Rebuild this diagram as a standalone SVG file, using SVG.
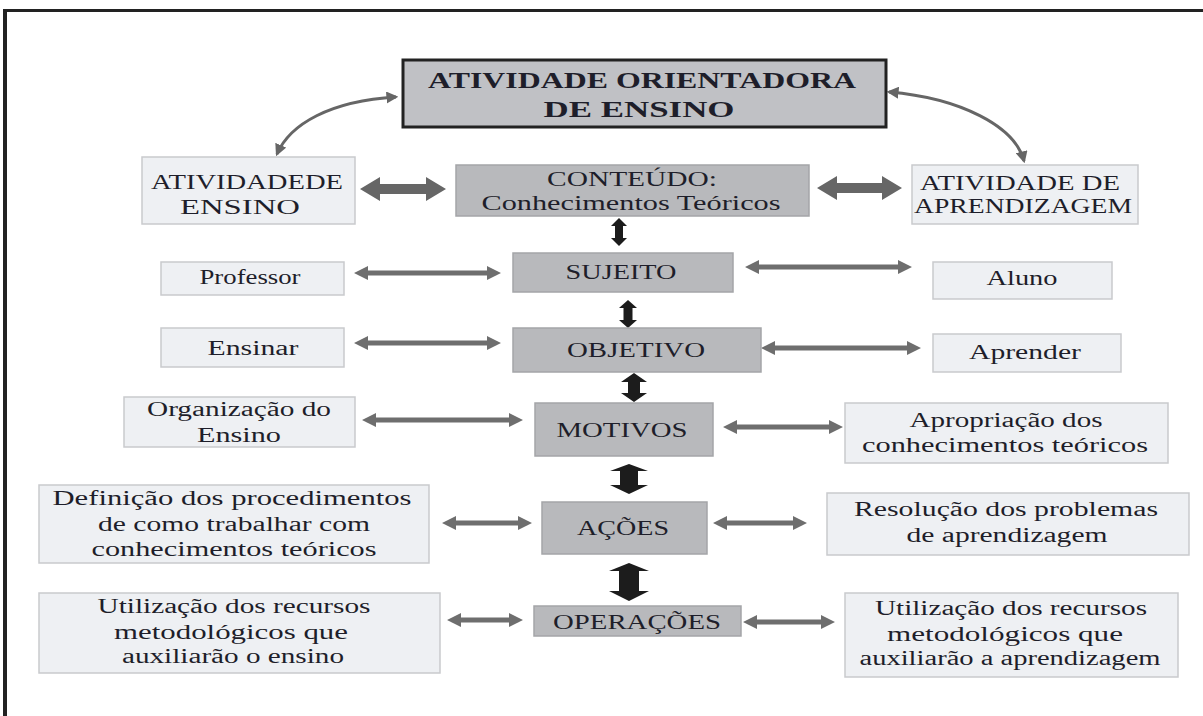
<svg xmlns="http://www.w3.org/2000/svg" width="1203" height="716" viewBox="0 0 1203 716">
<defs>
<style>
.t{font-family:"Liberation Serif","Times New Roman",serif;font-size:20px;fill:#1e1e2a;text-anchor:middle}
.tb{font-family:"Liberation Serif","Times New Roman",serif;font-size:24px;font-weight:bold;fill:#1e1e2a;text-anchor:middle}
.side{fill:#eef0f3;stroke:#c9cacd;stroke-width:1.5}
.mid{fill:#b8b9bc;stroke:#a4a5a8;stroke-width:1.5}
.top{fill:#c0c1c5;stroke:#222;stroke-width:3}
.ga{fill:#6e6e6e}
.gt{fill:#666}
.ba{fill:#1c1c1c}
.cv{fill:none;stroke:#666;stroke-width:3;marker-start:url(#ah);marker-end:url(#ah)}
</style>
<marker id="ah" viewBox="0 0 10 10" refX="8" refY="5" markerWidth="4" markerHeight="4" orient="auto-start-reverse" markerUnits="strokeWidth">
<path d="M0,0 L10,5 L0,10 z" fill="#666"/>
</marker>
</defs>
<rect width="1203" height="716" fill="#fff"/>
<g id="frame">
<rect x="3" y="9" width="4" height="707" fill="#222"/>
<rect x="3" y="9" width="1200" height="3" fill="#222"/>
</g>
<g id="connectors">
<path class="cv" d="M396,97 C330,101 290,124 277,154"/>
<path class="cv" d="M889,92 C960,98 1015,126 1024,161"/>
<path class="gt" d="M360,189 L380,177 L380,184 L426,184 L426,177 L446,189 L426,201 L426,194 L380,194 L380,201 Z"/>
<path class="gt" d="M817,188 L837,176 L837,183 L882,183 L882,176 L902,188 L882,200 L882,193 L837,193 L837,200 Z"/>
<path class="ga" d="M354,273 L368,266 L368,270.5 L487,270.5 L487,266 L501,273 L487,280 L487,275.5 L368,275.5 L368,280 Z"/>
<path class="ga" d="M745,267 L759,260 L759,264.5 L898,264.5 L898,260 L912,267 L898,274 L898,269.5 L759,269.5 L759,274 Z"/>
<path class="ga" d="M354,343 L368,336 L368,340.5 L487,340.5 L487,336 L501,343 L487,350 L487,345.5 L368,345.5 L368,350 Z"/>
<path class="ga" d="M761,348 L775,341 L775,345.5 L907,345.5 L907,341 L921,348 L907,355 L907,350.5 L775,350.5 L775,355 Z"/>
<path class="ga" d="M362,420 L376,413 L376,417.5 L509,417.5 L509,413 L523,420 L509,427 L509,422.5 L376,422.5 L376,427 Z"/>
<path class="ga" d="M723,427 L737,420 L737,424.5 L829,424.5 L829,420 L843,427 L829,434 L829,429.5 L737,429.5 L737,434 Z"/>
<path class="ga" d="M442,523 L456,516 L456,520.5 L518,520.5 L518,516 L532,523 L518,530 L518,525.5 L456,525.5 L456,530 Z"/>
<path class="ga" d="M713,523 L727,516 L727,520.5 L793,520.5 L793,516 L807,523 L793,530 L793,525.5 L727,525.5 L727,530 Z"/>
<path class="ga" d="M447,620 L461,613 L461,617.5 L509,617.5 L509,613 L523,620 L509,627 L509,622.5 L461,622.5 L461,627 Z"/>
<path class="ga" d="M743,622 L757,615 L757,619.5 L821,619.5 L821,615 L835,622 L821,629 L821,624.5 L757,624.5 L757,629 Z"/>
<path class="ba" d="M619,218 L627,226 L623,226 L623,238 L627,238 L619,246 L611,238 L615,238 L615,226 L611,226 Z"/>
<path class="ba" d="M628,300 L637,308 L632.5,308 L632.5,320 L637,320 L628,328 L619,320 L623.5,320 L623.5,308 L619,308 Z"/>
<path class="ba" d="M634,373 L647,382 L640,382 L640,393 L647,393 L634,402 L621,393 L628,393 L628,382 L621,382 Z"/>
<path class="ba" d="M629,464 L648,471 L638,471 L638,485 L648,485 L629,494 L610,485 L620,485 L620,471 L610,471 Z"/>
<path class="ba" d="M629,563 L649,571 L639,571 L639,591 L649,591 L629,601 L609,591 L619,591 L619,571 L609,571 Z"/>
</g>
<g id="n-aoe">
<rect class="top" x="403" y="60" width="483" height="67"/>
<text class="tb" x="642" y="88" textLength="428" lengthAdjust="spacingAndGlyphs">ATIVIDADE ORIENTADORA</text>
<text class="tb" x="639" y="117" textLength="191" lengthAdjust="spacingAndGlyphs">DE ENSINO</text>
</g>
<g id="n-ativ-ensino">
<rect class="side" x="142" y="157" width="213" height="67"/>
<text class="t" x="247" y="189" textLength="192" lengthAdjust="spacingAndGlyphs">ATIVIDADEDE</text>
<text class="t" x="240" y="214" textLength="120" lengthAdjust="spacingAndGlyphs">ENSINO</text>
</g>
<g id="n-conteudo">
<rect class="mid" x="456" y="165" width="353" height="51"/>
<text class="t" x="632" y="186" textLength="170" lengthAdjust="spacingAndGlyphs">CONTEÚDO:</text>
<text class="t" x="631" y="210" textLength="299" lengthAdjust="spacingAndGlyphs">Conhecimentos Teóricos</text>
</g>
<g id="n-ativ-aprend">
<rect class="side" x="912" y="165" width="226" height="59"/>
<text class="t" x="1020" y="190" textLength="200" lengthAdjust="spacingAndGlyphs">ATIVIDADE DE</text>
<text class="t" x="1023" y="213" textLength="218" lengthAdjust="spacingAndGlyphs">APRENDIZAGEM</text>
</g>
<g id="n-professor">
<rect class="side" x="161" y="262" width="183" height="33"/>
<text class="t" x="250" y="284" textLength="101" lengthAdjust="spacingAndGlyphs">Professor</text>
</g>
<g id="n-sujeito">
<rect class="mid" x="513" y="253" width="220" height="39"/>
<text class="t" x="621" y="279" textLength="111" lengthAdjust="spacingAndGlyphs">SUJEITO</text>
</g>
<g id="n-aluno">
<rect class="side" x="933" y="262" width="179" height="37"/>
<text class="t" x="1022" y="285" textLength="71" lengthAdjust="spacingAndGlyphs">Aluno</text>
</g>
<g id="n-ensinar">
<rect class="side" x="161" y="328" width="183" height="39"/>
<text class="t" x="253" y="355" textLength="91" lengthAdjust="spacingAndGlyphs">Ensinar</text>
</g>
<g id="n-objetivo">
<rect class="mid" x="513" y="328" width="248" height="44"/>
<text class="t" x="636" y="357" textLength="138" lengthAdjust="spacingAndGlyphs">OBJETIVO</text>
</g>
<g id="n-aprender">
<rect class="side" x="933" y="334" width="188" height="38"/>
<text class="t" x="1025" y="359" textLength="112" lengthAdjust="spacingAndGlyphs">Aprender</text>
</g>
<g id="n-organizacao">
<rect class="side" x="124" y="397" width="231" height="50"/>
<text class="t" x="239" y="416" textLength="184" lengthAdjust="spacingAndGlyphs">Organização do</text>
<text class="t" x="239" y="442" textLength="84" lengthAdjust="spacingAndGlyphs">Ensino</text>
</g>
<g id="n-motivos">
<rect class="mid" x="535" y="403" width="178" height="53"/>
<text class="t" x="622" y="437" textLength="131" lengthAdjust="spacingAndGlyphs">MOTIVOS</text>
</g>
<g id="n-apropriacao">
<rect class="side" x="845" y="403" width="323" height="60"/>
<text class="t" x="1006" y="427" textLength="193" lengthAdjust="spacingAndGlyphs">Apropriação dos</text>
<text class="t" x="1005" y="452" textLength="286" lengthAdjust="spacingAndGlyphs">conhecimentos teóricos</text>
</g>
<g id="n-definicao">
<rect class="side" x="39" y="485" width="390" height="78"/>
<text class="t" x="232" y="505" textLength="359" lengthAdjust="spacingAndGlyphs">Definição dos procedimentos</text>
<text class="t" x="234" y="531" textLength="272" lengthAdjust="spacingAndGlyphs">de como trabalhar com</text>
<text class="t" x="234" y="556" textLength="285" lengthAdjust="spacingAndGlyphs">conhecimentos teóricos</text>
</g>
<g id="n-acoes">
<rect class="mid" x="542" y="502" width="165" height="52"/>
<text class="t" x="623" y="535" textLength="92" lengthAdjust="spacingAndGlyphs">AÇÕES</text>
</g>
<g id="n-resolucao">
<rect class="side" x="827" y="493" width="362" height="62"/>
<text class="t" x="1006" y="516" textLength="304" lengthAdjust="spacingAndGlyphs">Resolução dos problemas</text>
<text class="t" x="1007" y="542" textLength="201" lengthAdjust="spacingAndGlyphs">de aprendizagem</text>
</g>
<g id="n-util-ensino">
<rect class="side" x="39" y="593" width="401" height="80"/>
<text class="t" x="234" y="613" textLength="273" lengthAdjust="spacingAndGlyphs">Utilização dos recursos</text>
<text class="t" x="231" y="639" textLength="234" lengthAdjust="spacingAndGlyphs">metodológicos que</text>
<text class="t" x="233" y="663" textLength="222" lengthAdjust="spacingAndGlyphs">auxiliarão o ensino</text>
</g>
<g id="n-operacoes">
<rect class="mid" x="534" y="606" width="207" height="30"/>
<text class="t" x="637" y="629" textLength="168" lengthAdjust="spacingAndGlyphs">OPERAÇÕES</text>
</g>
<g id="n-util-aprend">
<rect class="side" x="845" y="593" width="333" height="84"/>
<text class="t" x="1011" y="615" textLength="272" lengthAdjust="spacingAndGlyphs">Utilização dos recursos</text>
<text class="t" x="1005" y="641" textLength="236" lengthAdjust="spacingAndGlyphs">metodológicos que</text>
<text class="t" x="1010" y="665" textLength="301" lengthAdjust="spacingAndGlyphs">auxiliarão a aprendizagem</text>
</g>
</svg>
